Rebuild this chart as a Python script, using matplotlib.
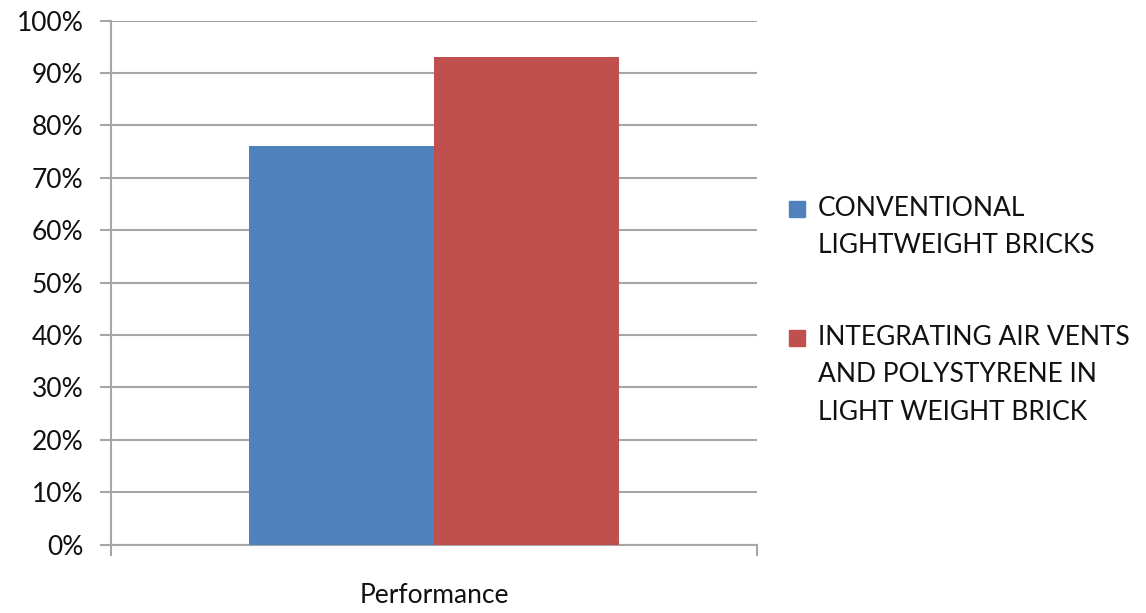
import numpy as np
import matplotlib
matplotlib.use("Agg")
import matplotlib.pyplot as plt
from matplotlib.patches import Rectangle

# Datos
categoria = ["Performance"]
series = ["CONVENTIONAL\nLIGHTWEIGHT BRICKS",
          "INTEGRATING AIR VENTS\nAND POLYSTYRENE IN\nLIGHT WEIGHT BRICK"]
valores = [0.76, 0.93]
colores = ["#4F81BD", "#C0504D"]
ticks_y = np.arange(0, 1.01, 0.1)
etiquetas_y = [f"{int(round(t * 100))}%" for t in ticks_y]

plt.rcParams['font.family'] = ['Lato', 'DejaVu Sans']
GRIS = "#a6a6a6"
TXT = "#111111"
FS = 19

fig = plt.figure(figsize=(11.46, 6.13), dpi=100)
ax = fig.add_axes([0.0969, 0.1117, 0.5637, 0.8548])

ancho = 0.286
offsets = [-ancho / 2, ancho / 2]
for val, col, off in zip(valores, colores, offsets):
    ax.bar(0 + off, val, width=ancho, color=col, zorder=3)

ax.set_xlim(-0.5, 0.5)
ax.set_ylim(0, 1.0)
ax.set_yticks(ticks_y)
ax.set_yticklabels(etiquetas_y, fontsize=FS, color=TXT)
ax.tick_params(axis='y', length=8, width=1.5, color=GRIS, pad=12)

# ticks mayores en los bordes (sin etiqueta) y etiqueta de categoría como tick menor
ax.set_xticks([-0.5, 0.5])
ax.set_xticklabels(["", ""])
ax.tick_params(axis='x', which='major', length=8, width=1.5, color=GRIS)
ax.set_xticks([0], minor=True)
ax.set_xticklabels(categoria, minor=True, fontsize=FS, color=TXT)
ax.tick_params(axis='x', which='minor', length=0, pad=28)

ax.grid(axis='y', color=GRIS, linewidth=1.5, zorder=0)
ax.set_axisbelow(True)
for s in ['top', 'right']:
    ax.spines[s].set_visible(False)
for s in ['left', 'bottom']:
    ax.spines[s].set_color(GRIS)
    ax.spines[s].set_linewidth(1.5)

# Leyenda manual (cuadro alineado con la primera línea del texto)
W, H = fig.get_size_inches() * fig.dpi
pos_y = [209, 338]
for lab, col, y in zip(series, colores, pos_y):
    fig.patches.append(Rectangle((789 / W, 1 - (y + 8) / H), 16 / W, 16 / H,
                                 transform=fig.transFigure, color=col))
    fig.text(818 / W, 1 - (y - 13) / H, lab, fontsize=FS, va='top', ha='left',
             linespacing=1.62, color=TXT)

fig.savefig("out.png", dpi=100)
